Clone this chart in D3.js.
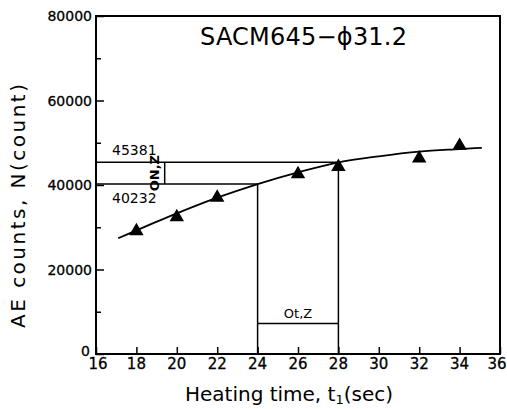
<!DOCTYPE html>
<html>
<head>
<meta charset="utf-8">
<script src="https://cdn.jsdelivr.net/npm/d3@7"></script>
<style>
  html, body { margin: 0; padding: 0; background: #fff; }
  svg { display: block; }
  text { font-family: "DejaVu Sans", sans-serif; fill: #000; }
</style>
</head>
<body>
<script>
// ---- data ----
const pointTimes = [18, 20, 22, 26, 28, 32, 34];
const pointCounts = [29100, 32400, 37000, 42600, 44300, 46300, 49300];

const curveTimes = [17.1, 19.2, 22, 24, 26, 28, 30, 32, 34, 35.1];
const curveCounts = [27400, 31700, 37000, 40232, 43000, 45381, 46800, 47900, 48500, 48800];

const xTicks = [16, 18, 20, 22, 24, 26, 28, 30, 32, 34, 36];
const yTicks = [0, 20000, 40000, 60000, 80000];
const yMinorTicks = [10000, 30000, 50000, 70000];

const refTimes = [24, 28];
const refCounts = [40232, 45381];
const refLabels = ["40232", "45381"];
const deltaNTime = 19.4;
const deltaTCount = 7200;

const titleText = "SACM645\u2212\u03D531.2";
const xLabel = "Heating  time,  t";
const yLabel = "AE  counts,  N(count)";

// ---- layout ----
const W = 507, H = 409;
const mLeft = 96, mRight = 500, mTop = 16, mBottom = 354;

const svg = d3.select("body").append("svg").attr("width", W).attr("height", H);
svg.append("rect").attr("width", W).attr("height", H).attr("fill", "#fff");

const x = d3.scaleLinear().domain([16, 36]).range([mLeft, mRight]);
const y = d3.scaleLinear().domain([0, 80000]).range([mBottom, mTop]);

// frame
svg.append("rect").attr("x", mLeft).attr("y", mTop)
  .attr("width", mRight - mLeft).attr("height", mBottom - mTop)
  .attr("fill", "none").attr("stroke", "#000").attr("stroke-width", 2);

// x axis ticks (inward)
const xAxis = d3.axisTop(x).tickValues(xTicks).tickSize(7).tickFormat("");
const gx = svg.append("g").attr("transform", `translate(0,${mBottom})`).call(xAxis);
gx.select(".domain").remove();
gx.selectAll("line").attr("stroke", "#000").attr("stroke-width", 1.5);
svg.append("g").selectAll("text").data(xTicks).join("text")
  .attr("x", d => Math.min(x(d) + (d === 16 ? 2 : 0), W - 10)).attr("y", mBottom + 15)
  .attr("text-anchor", "middle").attr("font-size", 15)
  .attr("stroke", "#000").attr("stroke-width", 0.3).text(d => d);

// y axis ticks (inward)
const yAxis = d3.axisRight(y).tickValues(yTicks).tickSize(8).tickFormat("");
const gy = svg.append("g").attr("transform", `translate(${mLeft},0)`).call(yAxis);
gy.select(".domain").remove();
gy.selectAll("line").attr("stroke", "#000").attr("stroke-width", 1.5);
const yAxisMinor = d3.axisRight(y).tickValues(yMinorTicks).tickSize(5).tickFormat("");
const gym = svg.append("g").attr("transform", `translate(${mLeft},0)`).call(yAxisMinor);
gym.select(".domain").remove();
gym.selectAll("line").attr("stroke", "#000").attr("stroke-width", 1.5);
svg.append("g").selectAll("text").data(yTicks).join("text")
  .attr("x", d => mLeft - (d === 0 ? 6 : 4)).attr("y", d => y(d) + (d === 0 ? 2 : 5))
  .attr("text-anchor", "end").attr("font-size", 14)
  .attr("stroke", "#000").attr("stroke-width", 0.3).text(d => d);

// reference lines
const lineG = svg.append("g").attr("stroke", "#000").attr("stroke-width", 1.5).attr("fill", "none");
refTimes.forEach((t, i) => {
  lineG.append("line").attr("x1", x(16)).attr("x2", x(t))
    .attr("y1", y(refCounts[i])).attr("y2", y(refCounts[i]));
  lineG.append("line").attr("x1", x(t)).attr("x2", x(t))
    .attr("y1", y(refCounts[i])).attr("y2", y(0));
});
lineG.append("line").attr("x1", x(deltaNTime)).attr("x2", x(deltaNTime))
  .attr("y1", y(refCounts[0])).attr("y2", y(refCounts[1]));
lineG.append("line").attr("x1", x(refTimes[0])).attr("x2", x(refTimes[1]))
  .attr("y1", y(deltaTCount)).attr("y2", y(deltaTCount));

// ref labels
svg.append("text").attr("x", 112).attr("y", y(refCounts[1]) - 7)
  .attr("font-size", 14).text(refLabels[1]);
svg.append("text").attr("x", 112).attr("y", y(refCounts[0]) + 19)
  .attr("font-size", 14).text(refLabels[0]);
svg.append("text")
  .attr("transform", `translate(${x(deltaNTime) - 6},${(y(refCounts[0]) + y(refCounts[1])) / 2}) rotate(-90)`)
  .attr("text-anchor", "middle").attr("font-size", 13).attr("font-weight", "bold").text("ON,Z");
svg.append("text").attr("x", (x(refTimes[0]) + x(refTimes[1])) / 2).attr("y", y(deltaTCount) - 6)
  .attr("text-anchor", "middle").attr("font-size", 13).text("Ot,Z");

// fitted curve
const line = d3.line().x(d => x(d[0])).y(d => y(d[1])).curve(d3.curveMonotoneX);
svg.append("path").datum(curveTimes.map((t, i) => [t, curveCounts[i]]))
  .attr("d", line).attr("fill", "none").attr("stroke", "#000").attr("stroke-width", 1.8);

// points
svg.append("g").selectAll("path").data(pointTimes.map((t, i) => [t, pointCounts[i]])).join("path")
  .attr("transform", d => `translate(${x(d[0])},${y(d[1])})`)
  .attr("d", d3.symbol().type(d3.symbolTriangle).size(90))
  .attr("fill", "#000");

// title
svg.append("text").attr("x", 200).attr("y", 45).attr("font-size", 24)
  .attr("textLength", 207).attr("lengthAdjust", "spacing").text(titleText);

// axis labels
const xl = svg.append("text").attr("x", 289).attr("y", 401)
  .attr("text-anchor", "middle").attr("font-size", 20);
xl.append("tspan").text(xLabel);
xl.append("tspan").attr("font-size", 13).attr("dy", 3).text("1");
xl.append("tspan").attr("dy", -3).text("(sec)");

svg.append("text")
  .attr("transform", `translate(25,206) rotate(-90)`)
  .attr("text-anchor", "middle").attr("font-size", 20)
  .attr("textLength", 244).attr("lengthAdjust", "spacing")
  .text(yLabel);
</script>
</body>
</html>
